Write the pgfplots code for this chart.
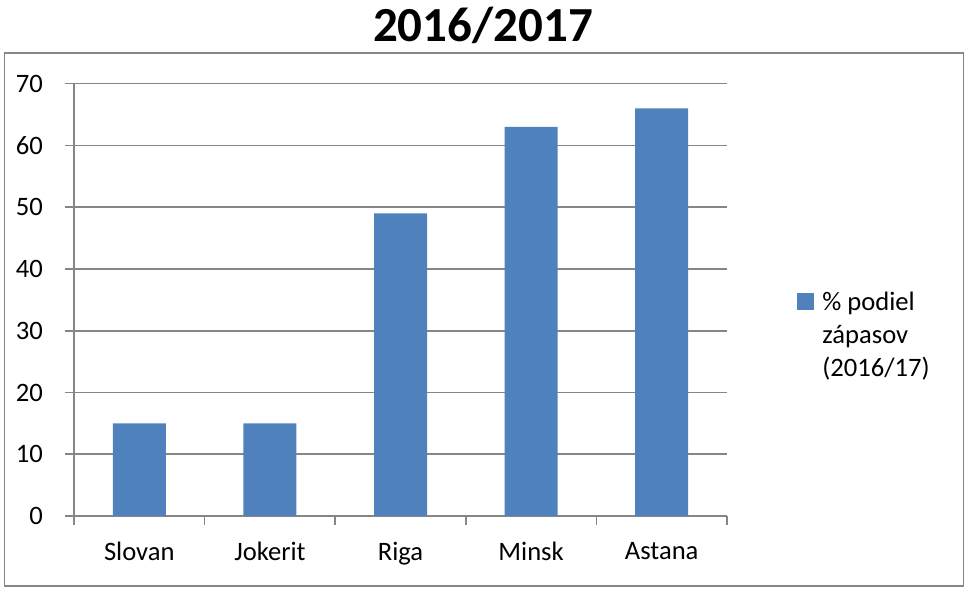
\documentclass[border=0pt]{standalone}
\usepackage{fontspec}
\setmainfont{Carlito}
\usepackage{pgfplots}
\pgfplotsset{compat=1.18}
\definecolor{barblue}{RGB}{79,129,189}
\definecolor{axgray}{RGB}{134,134,134}

\begin{document}
\begin{tikzpicture}[x=1pt,y=1pt]
	% page size: 1px of the reference = 0.5pt
	\path (0,0) rectangle (484.5,-298.5);
	\draw[axgray, line width=0.8pt] (2.25,-25.5) rectangle (481.75,-292);
	\node[font=\fontsize{24.5}{29}\selectfont\bfseries] at (241.5,-11.5) {2016/2017};
	\begin{axis}[
		at={(37pt,-257pt)}, anchor=south west,
		scale only axis, width=326.5pt, height=216.15pt,
		xmin=-0.5, xmax=4.5, ymin=0, ymax=70,
		axis lines*=left,
		axis line style={axgray, line width=0.8pt},
		tick style={axgray, line width=0.8pt},
		tick align=outside, major tick length=4.5pt,
		ytick={0,10,...,70},
		ymajorgrids, grid style={axgray, line width=0.8pt},
		xtick={-0.5,0.5,...,4.5},
		x tick label as interval,
		xticklabels={Slovan,Jokerit,Riga,Minsk,Astana},
		ticklabel style={font=\fontsize{13.3}{15}\selectfont, text=black},
		/pgf/number format/assume math mode=true,
		yticklabel style={xshift=-7.5pt},
		xticklabel style={yshift=-5pt},
		legend style={at={(1,0.548)}, anchor=north west, xshift=32pt,
			draw=none, fill=none, font=\fontsize{13.3}{16.5}\selectfont},
		legend cell align=left,
		legend image code/.code={\fill[#1] (0pt,-4.5pt) rectangle (8.5pt,4pt);},
		]
		\addplot[ybar, bar width=26.5pt, fill=barblue, draw=none]
		coordinates{
		(0, 15)
		(1, 15)
		(2, 49)
		(3, 63)
		(4, 66)
		};
		\addlegendentry{\hspace{2pt}\begin{tabular}[t]{@{}l@{}}\% podiel\\zápasov\\(2016/17)\end{tabular}}
	\end{axis}
\end{tikzpicture}
\end{document}
